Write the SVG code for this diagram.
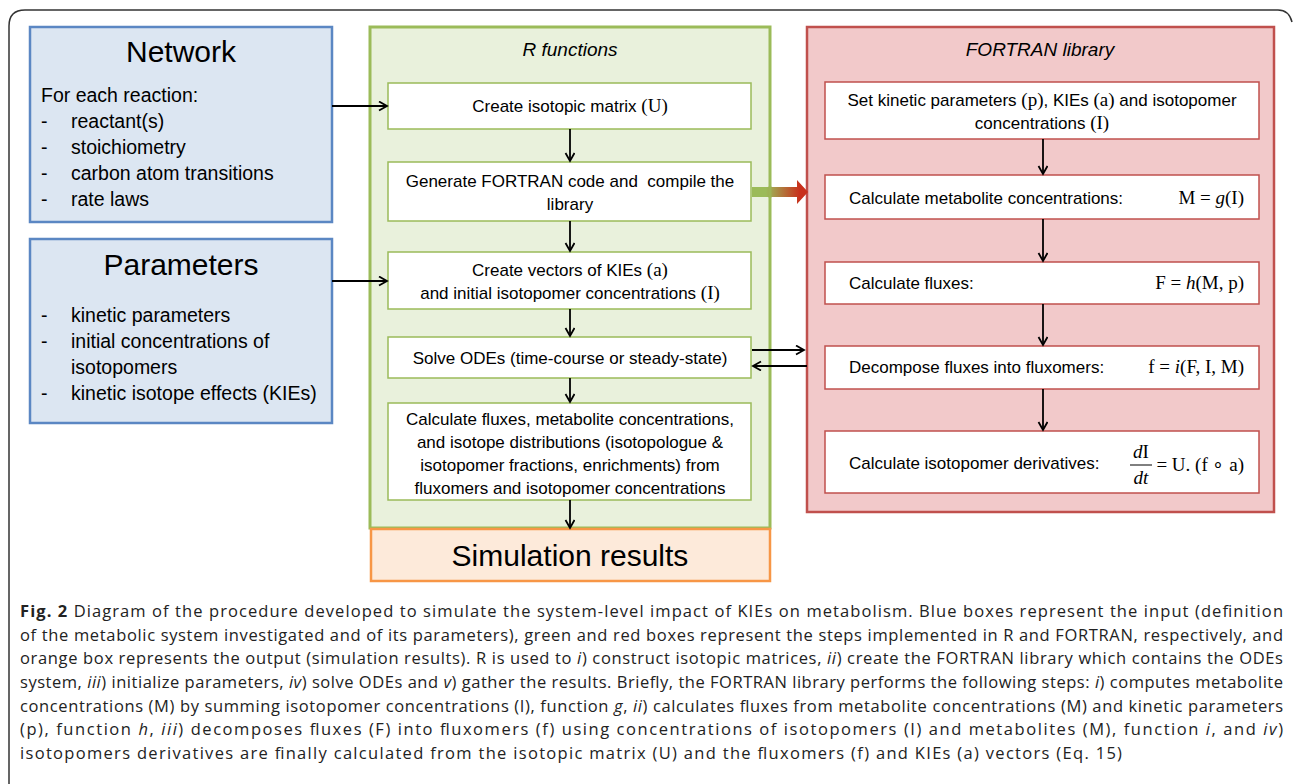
<svg xmlns="http://www.w3.org/2000/svg" width="1293" height="784" viewBox="0 0 1293 784">
<style>
.t{font-family:"Liberation Sans",Arial,sans-serif;fill:#000}
.big{font-size:30px}
.lst{font-size:19.5px}
.in{font-size:17px}
.hd{font-size:19px;font-style:italic}
.m{font-family:"Liberation Serif","Times New Roman",serif;font-size:19px}
.mi{font-style:italic}
.cap{font-family:"Open Sans","Liberation Sans",sans-serif;font-size:16.5px;fill:#222}
.gbox{fill:#fff;stroke:#9bbb59;stroke-width:1.5}
.rbox{fill:#fff;stroke:#c0504d;stroke-width:1.5}
.con{stroke:#000;stroke-width:1.8;fill:none}
</style>
<defs>
<marker id="ah" markerWidth="12" markerHeight="12" refX="9" refY="5" orient="auto" markerUnits="userSpaceOnUse">
<path d="M1,0.5 L9,5 L1,9.5" fill="none" stroke="#000" stroke-width="1.8"/>
</marker>
<linearGradient id="gr" x1="752" y1="0" x2="808" y2="0" gradientUnits="userSpaceOnUse">
<stop offset="0.25" stop-color="#9bbb59"/>
<stop offset="0.85" stop-color="#c8301c"/>
</linearGradient>
</defs>
<rect width="1293" height="784" fill="#fff"/>
<path d="M9,784 L9,26 Q9,10 25,10 L1278,10 Q1289,10 1292,22" fill="none" stroke="#333" stroke-width="1.5"/>

<g id="network">
<rect x="30" y="27" width="302" height="195" fill="#dce6f2" stroke="#5b87c3" stroke-width="2.5"/>
<text class="t big" x="181" y="62" text-anchor="middle">Network</text>
<text class="t lst" x="41" y="102">For each reaction:</text>
<text class="t lst" x="41" y="128">-</text><text class="t lst" x="71" y="128">reactant(s)</text>
<text class="t lst" x="41" y="154">-</text><text class="t lst" x="71" y="154">stoichiometry</text>
<text class="t lst" x="41" y="180">-</text><text class="t lst" x="71" y="180">carbon atom transitions</text>
<text class="t lst" x="41" y="206">-</text><text class="t lst" x="71" y="206">rate laws</text>
</g>

<g id="parameters">
<rect x="30" y="239" width="302" height="184" fill="#dce6f2" stroke="#5b87c3" stroke-width="2.5"/>
<text class="t big" x="181" y="275" text-anchor="middle">Parameters</text>
<text class="t lst" x="41" y="322">-</text><text class="t lst" x="71" y="322">kinetic parameters</text>
<text class="t lst" x="41" y="348">-</text><text class="t lst" x="71" y="348">initial concentrations of</text>
<text class="t lst" x="71" y="374">isotopomers</text>
<text class="t lst" x="41" y="400">-</text><text class="t lst" x="71" y="400">kinetic isotope effects (KIEs)</text>
</g>

<g id="r-functions">
<rect x="370" y="27" width="400" height="501" fill="#e9f1dc" stroke="#9bbb59" stroke-width="3"/>
<text class="t hd" x="570" y="56" text-anchor="middle">R functions</text>
</g>
<g id="r-matrix">
<rect class="gbox" x="388" y="83" width="363" height="46"/>
<text class="t in" x="570" y="112" text-anchor="middle">Create isotopic matrix <tspan class="m">(U)</tspan></text>
</g>
<g id="r-generate">
<rect class="gbox" x="388" y="162" width="363" height="59"/>
<text class="t in" x="570" y="187" text-anchor="middle" xml:space="preserve">Generate FORTRAN code and  compile the</text>
<text class="t in" x="570" y="210" text-anchor="middle">library</text>
</g>
<g id="r-vectors">
<rect class="gbox" x="388" y="252" width="363" height="57"/>
<text class="t in" x="570" y="276" text-anchor="middle">Create vectors of KIEs <tspan class="m">(a)</tspan></text>
<text class="t in" x="570" y="299" text-anchor="middle">and initial isotopomer concentrations <tspan class="m">(I)</tspan></text>
</g>
<g id="r-solve">
<rect class="gbox" x="388" y="337" width="363" height="41"/>
<text class="t in" x="570" y="364" text-anchor="middle">Solve ODEs (time-course or steady-state)</text>
</g>
<g id="r-calc">
<rect class="gbox" x="388" y="403" width="363" height="97"/>
<text class="t in" x="570" y="425" text-anchor="middle">Calculate fluxes, metabolite concentrations,</text>
<text class="t in" x="570" y="448" text-anchor="middle">and isotope distributions (isotopologue &amp;</text>
<text class="t in" x="570" y="471" text-anchor="middle">isotopomer fractions, enrichments) from</text>
<text class="t in" x="570" y="494" text-anchor="middle">fluxomers and isotopomer concentrations</text>
</g>

<g id="simulation-results">
<rect x="371" y="529" width="399" height="52" fill="#fdeada" stroke="#f79646" stroke-width="2.5"/>
<text class="t big" x="570" y="566" text-anchor="middle">Simulation results</text>
</g>

<g id="fortran-library">
<rect x="807" y="27" width="467" height="485" fill="#f2c9ca" stroke="#c0504d" stroke-width="2.5"/>
<text class="t hd" x="1040" y="56" text-anchor="middle">FORTRAN library</text>
</g>
<g id="f-set">
<rect class="rbox" x="825" y="82" width="434" height="57"/>
<text class="t in" x="1042" y="106" text-anchor="middle">Set kinetic parameters <tspan class="m">(p)</tspan>, KIEs <tspan class="m">(a)</tspan> and isotopomer</text>
<text class="t in" x="1042" y="129" text-anchor="middle">concentrations <tspan class="m">(I)</tspan></text>
</g>
<g id="f-metab">
<rect class="rbox" x="825" y="175" width="434" height="44"/>
<text class="t in" x="849" y="204">Calculate metabolite concentrations:</text>
<text class="m" x="1244" y="204" text-anchor="end">M = <tspan class="mi">g</tspan>(I)</text>
</g>
<g id="f-fluxes">
<rect class="rbox" x="825" y="262" width="434" height="42"/>
<text class="t in" x="849" y="289">Calculate fluxes:</text>
<text class="m" x="1244" y="289" text-anchor="end">F = <tspan class="mi">h</tspan>(M, p)</text>
</g>
<g id="f-decompose">
<rect class="rbox" x="825" y="346" width="434" height="43"/>
<text class="t in" x="849" y="373">Decompose fluxes into fluxomers:</text>
<text class="m" x="1244" y="373" text-anchor="end">f = <tspan class="mi">i</tspan>(F, I, M)</text>
</g>
<g id="f-deriv">
<rect class="rbox" x="825" y="431" width="434" height="62"/>
<text class="t in" x="849" y="469">Calculate isotopomer derivatives:</text>
<text class="m" x="1141" y="458" text-anchor="middle"><tspan class="mi">d</tspan>I</text>
<line x1="1130" y1="465" x2="1152" y2="465" stroke="#000" stroke-width="1"/>
<text class="m" x="1141" y="484" text-anchor="middle"><tspan class="mi">dt</tspan></text>
<text class="m" x="1244" y="471" text-anchor="end">= U. (f ∘ a)</text>
</g>

<g id="connectors">
<line class="con" x1="332" y1="106" x2="387" y2="106" marker-end="url(#ah)"/>
<line class="con" x1="332" y1="281" x2="387" y2="281" marker-end="url(#ah)"/>
<line class="con" x1="570" y1="129" x2="570" y2="161" marker-end="url(#ah)"/>
<line class="con" x1="570" y1="221" x2="570" y2="251" marker-end="url(#ah)"/>
<line class="con" x1="570" y1="309" x2="570" y2="336" marker-end="url(#ah)"/>
<line class="con" x1="570" y1="378" x2="570" y2="402" marker-end="url(#ah)"/>
<line class="con" x1="570" y1="500" x2="570" y2="528" marker-end="url(#ah)"/>
<line class="con" x1="752" y1="350" x2="804" y2="350" marker-end="url(#ah)"/>
<line class="con" x1="807" y1="366" x2="753" y2="366" marker-end="url(#ah)"/>
<line class="con" x1="1043" y1="139" x2="1043" y2="174" marker-end="url(#ah)"/>
<line class="con" x1="1043" y1="219" x2="1043" y2="261" marker-end="url(#ah)"/>
<line class="con" x1="1043" y1="304" x2="1043" y2="345" marker-end="url(#ah)"/>
<line class="con" x1="1043" y1="389" x2="1043" y2="430" marker-end="url(#ah)"/>
<polygon points="752,187 797,187 797,180 808,192 797,204 797,197 752,197" fill="url(#gr)"/>
<line x1="770" y1="186" x2="770" y2="198" stroke="#9bbb59" stroke-width="3" opacity="0.6"/>
</g>

<g id="caption">
<text class="cap" x="20" y="617" textLength="1263" lengthAdjust="spacing"><tspan font-weight="bold">Fig. 2</tspan> Diagram of the procedure developed to simulate the system-level impact of KIEs on metabolism. Blue boxes represent the input (definition</text>
<text class="cap" x="20" y="641" textLength="1263" lengthAdjust="spacing">of the metabolic system investigated and of its parameters), green and red boxes represent the steps implemented in R and FORTRAN, respectively, and</text>
<text class="cap" x="20" y="664" textLength="1263" lengthAdjust="spacing">orange box represents the output (simulation results). R is used to <tspan font-style="italic">i</tspan>) construct isotopic matrices, <tspan font-style="italic">ii</tspan>) create the FORTRAN library which contains the ODEs</text>
<text class="cap" x="20" y="688" textLength="1263" lengthAdjust="spacing">system, <tspan font-style="italic">iii</tspan>) initialize parameters, <tspan font-style="italic">iv</tspan>) solve ODEs and <tspan font-style="italic">v</tspan>) gather the results. Briefly, the FORTRAN library performs the following steps: <tspan font-style="italic">i</tspan>) computes metabolite</text>
<text class="cap" x="20" y="712" textLength="1263" lengthAdjust="spacing">concentrations (M) by summing isotopomer concentrations (I), function <tspan font-style="italic">g</tspan>, <tspan font-style="italic">ii</tspan>) calculates fluxes from metabolite concentrations (M) and kinetic parameters</text>
<text class="cap" x="20" y="735" textLength="1263" lengthAdjust="spacing">(p), function <tspan font-style="italic">h</tspan>, <tspan font-style="italic">iii</tspan>) decomposes fluxes (F) into fluxomers (f) using concentrations of isotopomers (I) and metabolites (M), function <tspan font-style="italic">i</tspan>, and <tspan font-style="italic">iv</tspan>)</text>
<text class="cap" x="20" y="759" textLength="1102" lengthAdjust="spacing">isotopomers derivatives are finally calculated from the isotopic matrix (U) and the fluxomers (f) and KIEs (a) vectors (Eq. 15)</text>
</g>
</svg>
